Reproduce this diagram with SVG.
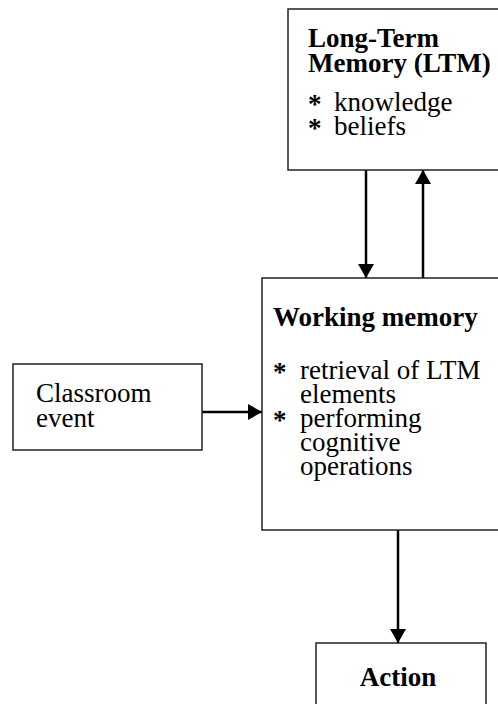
<svg xmlns="http://www.w3.org/2000/svg" width="498" height="704" viewBox="0 0 498 704">
<style>
.box{fill:#fff;stroke:#222;stroke-width:1.5}
.t{font-family:"Liberation Serif","Times New Roman","DejaVu Serif",serif;font-size:27px;font-weight:normal;fill:#000}
.b{font-weight:bold}
.c{stroke:#000;stroke-width:2.5;fill:none}
</style>
<defs>
<marker id="ah" viewBox="0 0 14 18" refX="14" refY="9" markerWidth="14" markerHeight="18" markerUnits="userSpaceOnUse" orient="auto">
<path d="M0,1 L14,9 L0,17 Z" fill="#000"/>
</marker>
</defs>
<g id="connectors">
<line class="c" x1="366" y1="170" x2="366" y2="278" marker-end="url(#ah)"/>
<line class="c" x1="423" y1="278" x2="423" y2="170" marker-end="url(#ah)"/>
<line class="c" x1="202" y1="412" x2="262" y2="412" marker-end="url(#ah)"/>
<line class="c" x1="398" y1="530" x2="398" y2="643" marker-end="url(#ah)"/>
</g>
<g id="ltm">
<rect class="box" x="288" y="9" width="215" height="161"/>
<text class="t b"><tspan x="308" y="47">Long-Term</tspan><tspan x="308" y="72">Memory (LTM)</tspan></text>
<text class="t"><tspan class="b" x="308" y="113">*</tspan><tspan x="334" y="111">knowledge</tspan><tspan class="b" x="308" y="137">*</tspan><tspan x="334" y="135">beliefs</tspan></text>
</g>
<g id="working-memory">
<rect class="box" x="262" y="278" width="241" height="252"/>
<text class="t b" x="273" y="326">Working memory</text>
<text class="t"><tspan class="b" x="273" y="381">*</tspan><tspan x="300" y="379">retrieval of LTM</tspan><tspan x="300" y="403">elements</tspan><tspan class="b" x="273" y="429">*</tspan><tspan x="300" y="427">performing</tspan><tspan x="300" y="451">cognitive</tspan><tspan x="300" y="475">operations</tspan></text>
</g>
<g id="classroom-event">
<rect class="box" x="13" y="364" width="189" height="86"/>
<text class="t"><tspan x="36" y="402">Classroom</tspan><tspan x="36" y="427">event</tspan></text>
</g>
<g id="action">
<rect class="box" x="316" y="643" width="170" height="70"/>
<text class="t b" x="398" y="686" text-anchor="middle">Action</text>
</g>
</svg>
